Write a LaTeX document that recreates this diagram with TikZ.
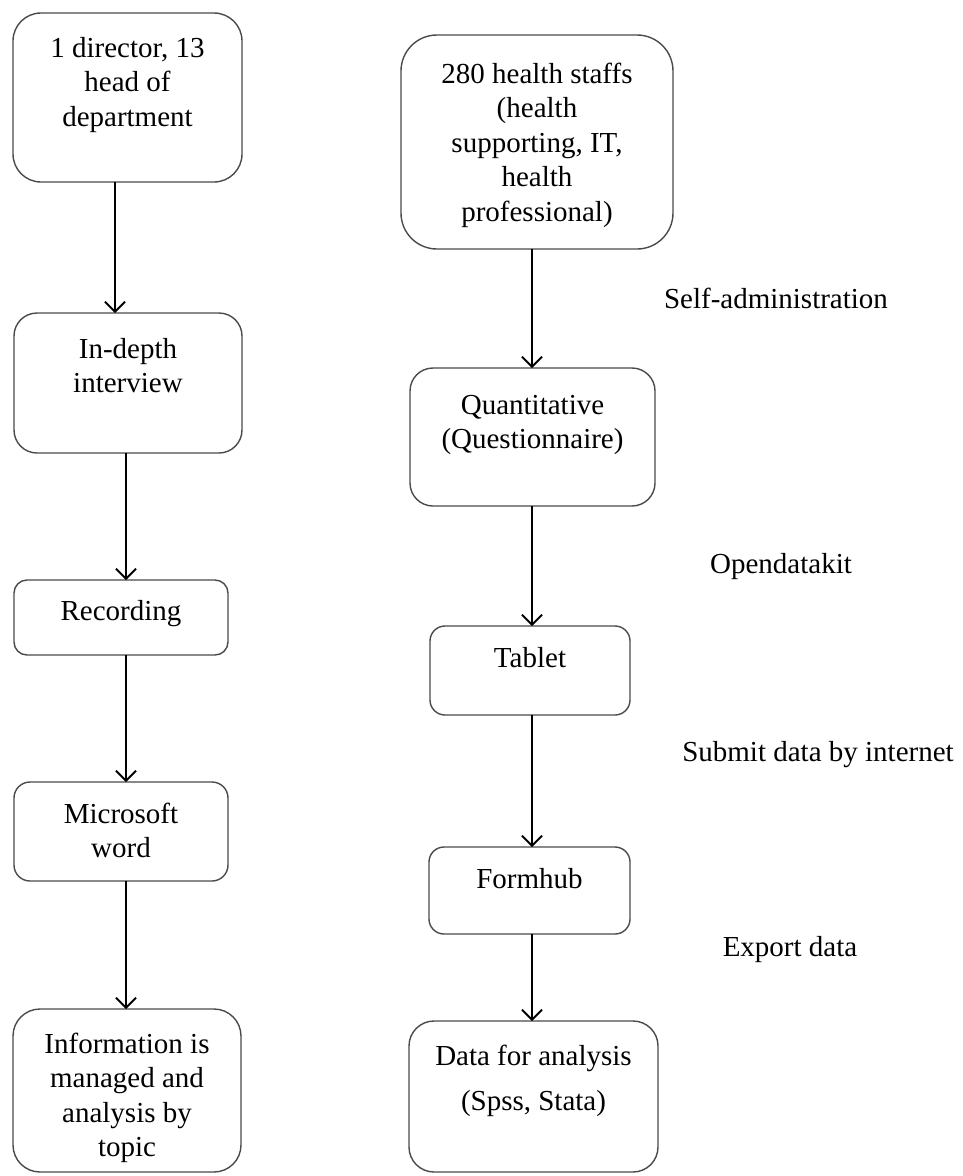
\documentclass[tikz,border=0pt]{standalone}
\usepackage{fontspec}
\setmainfont{Liberation Serif}
\usetikzlibrary{arrows.meta}
\definecolor{boxgray}{HTML}{4A4A4A}
\newcommand{\bxt}[4]{\parbox[t][#2pt][t]{#1pt}{\centering\rule{0pt}{#3pt}#4}}
\tikzset{
  fbox/.style={draw=boxgray, line width=1.4pt, inner sep=0pt, outer sep=0pt,
    anchor=north west, font=\fontsize{29}{34.5}\selectfont},
  lbl/.style={font=\fontsize{29}{34}\selectfont, inner sep=0pt},
  arr/.style={draw=black, line width=1.8pt, -{Straight Barb[length=10pt,width=20pt]}}
}
\begin{document}
\begin{tikzpicture}[x=1pt,y=-1pt]
\useasboundingbox (0,0) rectangle (962,1176);
% left column
\node[fbox, rounded corners=28pt] (A) at (13,13) {\bxt{229}{169}{44}{1 director, 13\\head of\\department}};
\node[fbox, rounded corners=23pt] (B) at (14,313) {\bxt{228}{140}{45}{In-depth\\interview}};
\node[fbox, rounded corners=13pt] (C) at (14,580) {\bxt{214}{75}{40}{Recording}};
\node[fbox, rounded corners=16pt] (D) at (14,782) {\bxt{214}{99}{41}{Microsoft\\word}};
\node[fbox, rounded corners=27pt] (E) at (13,1009) {\bxt{228}{163}{44}{Information is\\managed and\\analysis by\\topic}};
% right column
\node[fbox, rounded corners=36pt] (F) at (401,35) {\bxt{272}{214}{48}{280 health staffs\\(health\\supporting, IT,\\health\\professional)}};
\node[fbox, rounded corners=23pt] (G) at (410,368) {\bxt{245}{138}{46}{Quantitative\\(Questionnaire)}};
\node[fbox, rounded corners=15pt] (T) at (430,626) {\bxt{200}{89}{41}{Tablet}};
\node[fbox, rounded corners=15pt] (H) at (429,847) {\bxt{201}{87}{41}{Formhub}};
\node[fbox, rounded corners=25pt] (K) at (409,1021) {\bxt{249}{151}{44}{Data for analysis\\[11pt](Spss, Stata)}};
% labels
\node[lbl] (l1) at (776,298) {Self-administration};
\node[lbl] (l2) at (781,567) {Opendatakit};
\node[lbl] (l3) at (818,755) {Submit data by internet};
\node[lbl] (l4) at (790,950) {Export data};
% arrow columns
\coordinate (colA) at (115,0);
\coordinate (colL) at (126,0);
\coordinate (colR) at (532,0);
\draw[arr] (A.south -| colA) -- (B.north -| colA);
\draw[arr] (B.south -| colL) -- (C.north -| colL);
\draw[arr] (C.south -| colL) -- (D.north -| colL);
\draw[arr] (D.south -| colL) -- (E.north -| colL);
\draw[arr] (F.south -| colR) -- (G.north -| colR);
\draw[arr] (G.south -| colR) -- (T.north -| colR);
\draw[arr] (T.south -| colR) -- (H.north -| colR);
\draw[arr] (H.south -| colR) -- (K.north -| colR);
\end{tikzpicture}
\end{document}
